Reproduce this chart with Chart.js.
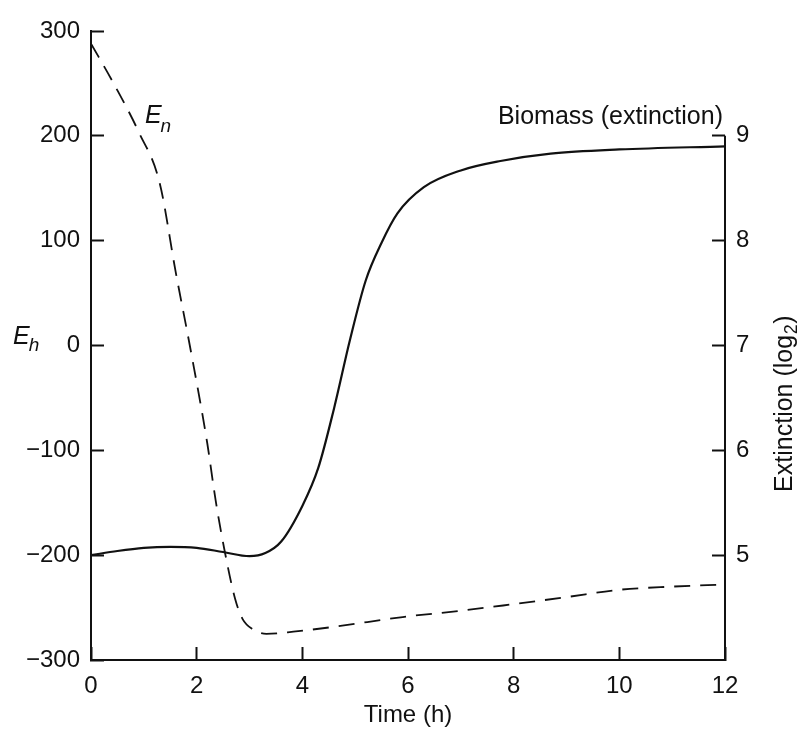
<!DOCTYPE html>
<html>
<head>
<meta charset="utf-8">
<title>Eh and biomass</title>
<script src="https://cdn.jsdelivr.net/npm/chart.js@4.4.1/dist/chart.umd.min.js"></script>
<style>
  body { margin: 0; background: #fff; }
  canvas { display: block; }
</style>
</head>
<body>
<canvas id="ehChart" width="804" height="730"></canvas>
<script>
var timeTicks = [0, 2, 4, 6, 8, 10, 12];
var ehTicks = [-300, -200, -100, 0, 100, 200, 300];
var extinctionTicks = [5, 6, 7, 8, 9];

// En (dashed), left axis
var enTime = [0, 0.45, 0.9, 1.3, 1.6, 1.9, 2.2, 2.36, 2.53, 2.73, 2.87, 3.07, 3.32, 3.83, 4.65, 5.9, 7.0, 7.8, 9.0, 10.0, 11.0, 12];
var enValues = [288, 248, 204, 155, 71, -8, -93, -148, -196, -242, -261, -271, -275, -273, -268, -259, -253, -248, -240, -233, -230, -228];

// biomass (solid), right axis, extinction log2
var biomassTime = [0, 0.5, 1, 1.5, 2, 2.5, 3, 3.3, 3.6, 4, 4.3, 4.6, 4.9, 5.2, 5.5, 5.8, 6.3, 7, 7.75, 8.7, 10, 12];
var biomassValues = [5.0, 5.04, 5.07, 5.08, 5.07, 5.03, 4.99, 5.02, 5.13, 5.47, 5.83, 6.4, 7.05, 7.62, 7.98, 8.26, 8.51, 8.67, 8.76, 8.83, 8.87, 8.9];

var ink = '#111';
var fontFamily = '"Liberation Sans", Arial, sans-serif';

function points(xs, ys) {
  return xs.map(function(t, i) { return { x: t, y: ys[i] }; });
}

function fixedTicks(list) {
  return function(scale) {
    scale.ticks = list.map(function(v) { return { value: v }; });
  };
}

// fixed box size, and no extra room asked for the end labels
function fixedSize(w, h) {
  return function(scale) {
    if (w) scale.width = w;
    if (h) scale.height = h;
    scale.paddingTop = 0;
    scale.paddingBottom = 0;
    scale.paddingLeft = 0;
    scale.paddingRight = 0;
  };
}

var figureText = {
  id: 'figureText',
  afterDraw: function(chart) {
    var ctx = chart.ctx;
    var area = chart.chartArea;
    var x = chart.scales.x, yl = chart.scales.y, yr = chart.scales.y1;
    ctx.save();
    ctx.strokeStyle = ink;
    ctx.fillStyle = ink;
    ctx.lineWidth = 2;

    // right axis line only runs from 9 downwards
    ctx.beginPath();
    ctx.moveTo(area.right, yr.getPixelForValue(9));
    ctx.lineTo(area.right, area.bottom + 1);
    ctx.stroke();

    ctx.textBaseline = 'alphabetic';
    ctx.textAlign = 'right';
    ctx.font = '25px ' + fontFamily;
    ctx.fillText('Biomass (extinction)', area.right - 2, yr.getPixelForValue(9) - 12);

    // En curve label
    ctx.textAlign = 'left';
    var ex = x.getPixelForValue(1.02), ey = yl.getPixelForValue(212);
    ctx.font = 'italic 25px ' + fontFamily;
    ctx.fillText('E', ex, ey);
    var ew = ctx.measureText('E').width;
    ctx.font = 'italic 19px ' + fontFamily;
    ctx.fillText('n', ex + ew - 1, ey + 9);

    // Eh axis label
    var hy = yl.getPixelForValue(0);
    ctx.font = 'italic 25px ' + fontFamily;
    ctx.fillText('E', 13, hy - 2);
    ctx.font = 'italic 19px ' + fontFamily;
    ctx.fillText('h', 13 + ew - 1, hy + 5);

    // right axis title, reading upwards
    ctx.translate(area.right + 67, yr.getPixelForValue(6.44));
    ctx.rotate(-Math.PI / 2);
    ctx.font = '25px ' + fontFamily;
    var part1 = 'Extinction (log', part3 = ')';
    var w1 = ctx.measureText(part1).width, w3 = ctx.measureText(part3).width;
    ctx.font = '18px ' + fontFamily;
    var w2 = ctx.measureText('2').width;
    var start = -(w1 + w2 + w3) / 2;
    ctx.font = '25px ' + fontFamily;
    ctx.fillText(part1, start, 0);
    ctx.fillText(part3, start + w1 + w2 + 1, 0);
    ctx.font = '18px ' + fontFamily;
    ctx.fillText('2', start + w1 + 0.5, 5);
    ctx.restore();
  }
};

var tickFont = { family: fontFamily, size: 24 };
var inwardGrid = { drawOnChartArea: false, drawTicks: true, tickLength: -13, tickWidth: 2, tickColor: ink };

var ctx = document.getElementById('ehChart').getContext('2d');
var chart = new Chart(ctx, {
  type: 'line',
  data: {
    datasets: [{
      label: 'En',
      data: points(enTime, enValues),
      yAxisID: 'y',
      borderColor: ink,
      borderWidth: 1.8,
      borderDash: [16, 10],
      pointRadius: 0,
      fill: false,
      cubicInterpolationMode: 'monotone'
    }, {
      label: 'Biomass (extinction)',
      data: points(biomassTime, biomassValues),
      yAxisID: 'y1',
      borderColor: ink,
      borderWidth: 2.2,
      pointRadius: 0,
      fill: false,
      cubicInterpolationMode: 'monotone'
    }]
  },
  options: {
    responsive: false,
    animation: false,
    layout: { padding: { top: 31, left: 0, right: 0, bottom: 0 } },
    plugins: {
      legend: { display: false },
      tooltip: { enabled: false }
    },
    scales: {
      x: {
        type: 'linear',
        position: 'bottom',
        min: 0,
        max: 12,
        afterBuildTicks: fixedTicks(timeTicks),
        afterFit: fixedSize(0, 70),
        grid: inwardGrid,
        border: { display: true, color: ink, width: 2 },
        ticks: { font: tickFont, color: ink, padding: 25, maxRotation: 0, autoSkip: false },
        title: { display: true, text: 'Time (h)', font: { family: fontFamily, size: 24 }, color: ink, padding: { top: 6, bottom: 0 } }
      },
      y: {
        position: 'left',
        min: -300,
        max: 300,
        afterBuildTicks: fixedTicks(ehTicks),
        afterFit: fixedSize(91, 0),
        grid: inwardGrid,
        border: { display: true, color: ink, width: 2 },
        ticks: {
          font: tickFont,
          color: ink,
          padding: 24,
          callback: function(v) { return v < 0 ? '\u2212' + Math.abs(v) : String(v); }
        }
      },
      y1: {
        position: 'right',
        min: 4,
        max: 10,
        afterBuildTicks: fixedTicks(extinctionTicks),
        afterFit: fixedSize(79, 0),
        grid: inwardGrid,
        border: { display: false },
        ticks: { font: tickFont, color: ink, padding: 24 }
      }
    }
  },
  plugins: [figureText]
});
</script>
</body>
</html>
